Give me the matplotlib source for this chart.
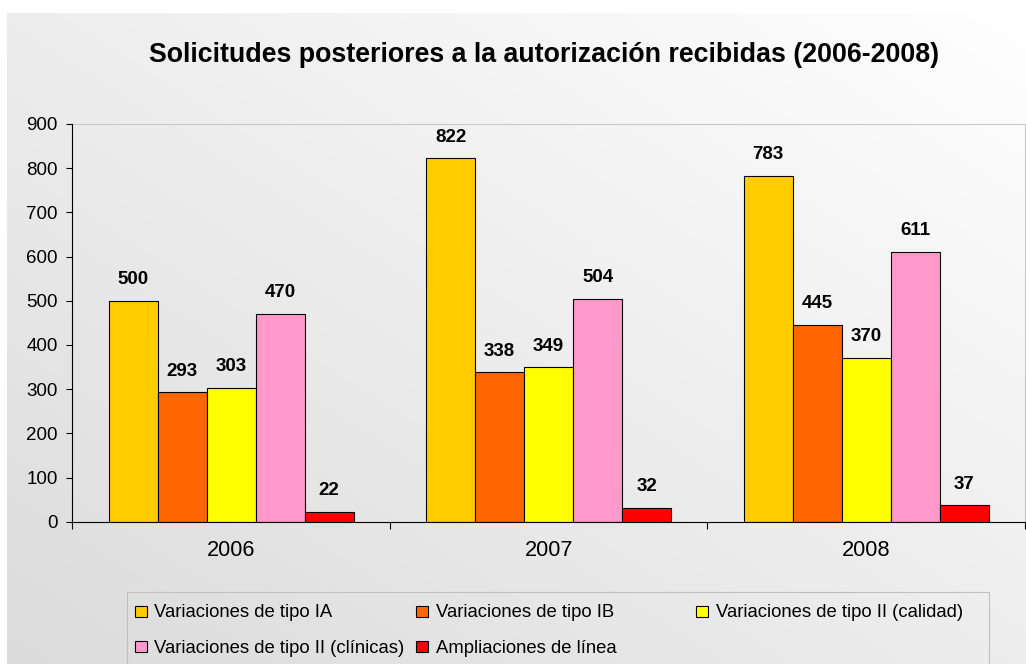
import numpy as np
import matplotlib
matplotlib.use("Agg")
import matplotlib.pyplot as plt
from matplotlib.patches import Rectangle

# ---- data ----
years = ["2006", "2007", "2008"]
series_names = [
    "Variaciones de tipo IA",
    "Variaciones de tipo IB",
    "Variaciones de tipo II (calidad)",
    "Variaciones de tipo II (clínicas)",
    "Ampliaciones de línea",
]
tipo_IA = [500, 822, 783]
tipo_IB = [293, 338, 445]
tipo_II_calidad = [303, 349, 370]
tipo_II_clinicas = [470, 504, 611]
ampliaciones = [22, 32, 37]
title = "Solicitudes posteriores a la autorización recibidas (2006-2008)"
yticks = [0, 100, 200, 300, 400, 500, 600, 700, 800, 900]

series_values = [tipo_IA, tipo_IB, tipo_II_calidad, tipo_II_clinicas, ampliaciones]
colors = ["#FFCC00", "#FF6600", "#FFFF00", "#FF99CC", "#FF0000"]

plt.rcParams["font.family"] = ["Liberation Sans", "DejaVu Sans"]

W, H = 1026, 664
fig = plt.figure(figsize=(W / 100, H / 100), dpi=100)
fig.patch.set_facecolor("white")

def fx(x):
    return x / W

def fy(y):
    return 1 - y / H

# ---- gradient background (chart area) ----
bg = fig.add_axes([0, 0, 1, 1], zorder=-10)
bg.set_xlim(0, W)
bg.set_ylim(H, 0)
bg.axis("off")
x0, y0 = 7, 13
u = np.linspace(0, 1, 300)[None, :]
v = np.linspace(0, 1, 200)[:, None]
val = 1 - 0.14 * (0.5 * (1 - u) + 0.5 * v)
img = np.dstack([val, val, val])
bg.imshow(img, extent=(x0, W, H, y0), aspect="auto", interpolation="bilinear")

# ---- main axes ----
L, R, T, B = 72.3, 1025.0, 123.9, 521.7
ax = fig.add_axes([fx(L), fy(B), (R - L) / W, (B - T) / H])
ax.set_facecolor("none")

x = np.arange(len(years))
bw = 0.1543
for i, (vals, col) in enumerate(zip(series_values, colors)):
    pos = x + (i - 2) * bw
    bars = ax.bar(pos, vals, width=bw, color=col, edgecolor="black",
                  linewidth=0.8, zorder=3)
    for p, v_ in zip(pos, vals):
        ax.annotate(str(v_), (p, v_), xytext=(0, 12), textcoords="offset points",
                    ha="center", va="baseline", fontsize=13.5, fontweight="bold",
                    color="black")

ax.set_xlim(-0.5, 2.5)
ax.set_ylim(0, 900)
ax.set_yticks(yticks)
ax.set_yticklabels([str(t) for t in yticks])
ax.tick_params(axis="y", direction="out", length=4.5, width=0.8, pad=5.8,
               labelsize=13.5, colors="black")
ax.set_xticks([-0.5, 0.5, 1.5, 2.5])
ax.set_xticklabels([])
ax.set_xticks(x, minor=True)
ax.set_xticklabels(years, minor=True)
ax.tick_params(axis="x", which="major", direction="out", length=5, width=0.8)
ax.tick_params(axis="x", which="minor", length=0, pad=13.5, labelsize=15.7)

for s in ["left", "bottom"]:
    ax.spines[s].set_color("black")
    ax.spines[s].set_linewidth(0.8)
    ax.spines[s].set_zorder(4)
for s in ["top", "right"]:
    ax.spines[s].set_color("#c8c8c8")
    ax.spines[s].set_linewidth(0.8)

# ---- title ----
fig.text(fx(544.5), fy(61.7), title, ha="center", va="baseline",
         fontsize=19.3, fontweight="bold")

# ---- legend (Excel-style, fixed column grid) ----
frame = Rectangle((fx(127), fy(672)), fx(989) - fx(127), fy(592) - fy(672),
                  transform=fig.transFigure, facecolor="none",
                  edgecolor="#c0c0c0", linewidth=0.8)
fig.patches.append(frame)
col_x = [135, 416, 696]
row_y = [611.3, 646.7]
sq = 11.5
for k, (name, col) in enumerate(zip(series_names, colors)):
    r, c = divmod(k, 3)
    mx, my = col_x[c], row_y[r]
    fig.patches.append(Rectangle((fx(mx), fy(my + sq / 2)), sq / W, sq / H,
                                 transform=fig.transFigure, facecolor=col,
                                 edgecolor="black", linewidth=0.8))
    fig.text(fx(mx + sq + 8), fy(my + 6.0), name, ha="left", va="baseline",
             fontsize=13.3)

fig.savefig("out.png", dpi=100)
